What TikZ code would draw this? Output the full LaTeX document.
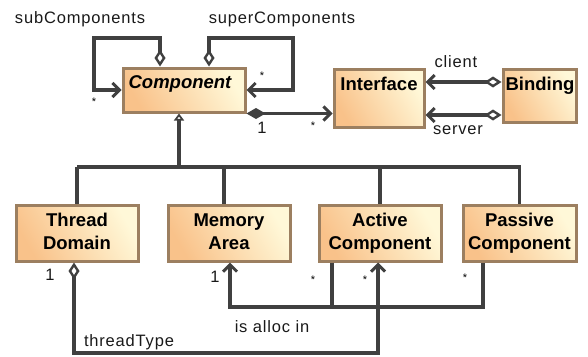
\documentclass[tikz,border=0pt]{standalone}
\usepackage{fontspec}
\setmainfont{Liberation Sans}
\newfontfamily\labelfont[LetterSpace=5]{Liberation Sans}
\usetikzlibrary{arrows.meta,shadings}

\definecolor{boxL}{HTML}{F9C28A}
\definecolor{boxR}{HTML}{FFF8D8}
\definecolor{boxBorder}{HTML}{9C7F60}
\definecolor{lineC}{HTML}{404040}

\tikzset{
  umlbox/.style={draw=boxBorder, line width=3pt, inner sep=0pt,
    shading=axis, left color=boxL, right color=boxR, shading angle=120},
  boxname/.style={font=\fontsize{18.5}{23}\selectfont\bfseries, align=center, inner sep=0pt, text=black},
  lbl/.style={font=\labelfont\fontsize{16.5}{19}\selectfont, inner sep=0pt, text=black!90},
  mult/.style={font=\fontsize{11}{12}\selectfont, inner sep=0pt},
  one/.style={font=\fontsize{16.5}{19}\selectfont, inner sep=0pt, text=black!90},
  conn/.style={draw=lineC, line width=3.2pt},
  barb/.tip={Straight Barb[length=7pt,width=14pt,line width=3pt]},
  odia/.tip={Diamond[open,fill=white,length=17pt,width=11pt,line width=2.4pt]},
  fdia/.tip={Diamond[fill=lineC,length=19pt,width=11pt]},
  gtri/.tip={Triangle[open,fill=white,length=7pt,width=10pt,line width=2.4pt]},
}

\begin{document}
\begin{tikzpicture}[x=1pt,y=-1pt]
\useasboundingbox (0,0) rectangle (588,356);

% classes
\node[umlbox, minimum width=122pt, minimum height=44pt] (comp) at (184,90) {};
\node[umlbox, minimum width=90pt, minimum height=58pt] (iface) at (379,98) {};
\node[umlbox, minimum width=73pt, minimum height=53pt] (bind) at (539.5,95.5) {};
\node[umlbox, minimum width=122pt, minimum height=56pt] (thr) at (77,233) {};
\node[umlbox, minimum width=122pt, minimum height=56pt] (mem) at (229,233) {};
\node[umlbox, minimum width=122pt, minimum height=56pt] (act) at (380,233) {};
\node[umlbox, minimum width=113pt, minimum height=56pt] (pas) at (519.5,233) {};

\node[boxname, anchor=base] (compT) at (180,88) {\itshape Component};
\node[boxname, anchor=base] (ifaceT) at (379,90) {Interface};
\node[boxname, anchor=base] (bindT) at (540,90) {Binding};
\node[boxname, anchor=base] (thrT) at (77,249) {Thread\\Domain};
\node[boxname, anchor=base] (memT) at (229,249) {Memory\\Area};
\node[boxname, anchor=base] (actT) at (380,249) {Active\\Component};
\node[boxname, anchor=base] (pasT) at (519.5,249) {Passive\\Component};

% generalization tree
\coordinate (gbar) at (179,167);
\draw[conn, -gtri] (gbar) -- (comp.south -| gbar);
\draw[conn] (gbar -| thr.north) -- (gbar -| pas.north) -- (pas.north);
\draw[conn] (gbar -| thr.north) -- (thr.north);
\draw[conn] (gbar -| 224,0) -- ([xshift=-5pt]mem.north);
\draw[conn] (gbar -| act.north) -- (act.north);

% self associations
\draw[conn, odia-barb] ([xshift=-24pt]comp.north) |- (94,38) |- (comp.west);
\draw[conn, odia-barb] ([xshift=25pt]comp.north) |- (293,38) |- (comp.east);

% composition and bindings
\draw[conn, fdia-barb] (comp.south east) -- (iface.west |- comp.south east);
\draw[conn, odia-barb] (bind.west |- 0,82) -- (iface.east |- 0,82);
\draw[conn, odia-barb] (bind.west |- 0,115) -- (iface.east |- 0,115);

% allocation
\coordinate (allocJ) at (332,307);
\draw[conn, -barb] ([xshift=-36.5pt]pas.south) |- (230,307) -- (mem.south -| 230,0);
\draw[conn] ([xshift=-48pt]act.south) -- (allocJ);

% thread type
\draw[conn, odia-barb] ([xshift=-3pt]thr.south) |- (378,353) -- ([xshift=-2pt]act.south);

% role names and multiplicities
\node[lbl] (l1) at (80,19) {subComponents};
\node[lbl] (l2) at (282,19) {superComponents};
\node[lbl] (l3) at (456,62) {client};
\node[lbl] (l4) at (458,130) {server};
\node[lbl] (l5) at (272,327) {is alloc in};
\node[lbl] (l6) at (129,342) {threadType};

\node[mult] (m1) at (94,102) {*};
\node[mult] (m2) at (262,76) {*};
\node[mult] (m3) at (313,126) {*};
\node[mult] (m4) at (313,280) {*};
\node[mult] (m5) at (365,280) {*};
\node[mult] (m6) at (465,278) {*};
\node[one] (o1) at (262,128) {1};
\node[one] (o2) at (50,275) {1};
\node[one] (o3) at (215,277) {1};
\end{tikzpicture}
\end{document}
